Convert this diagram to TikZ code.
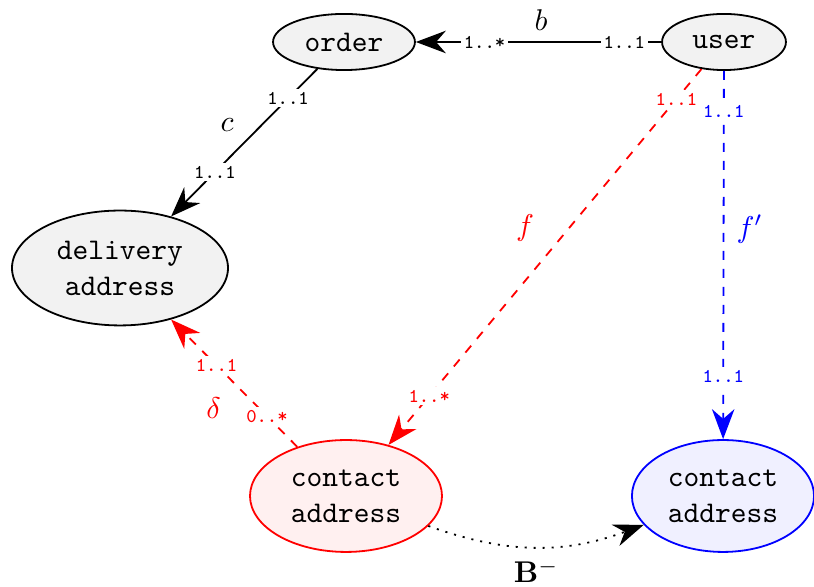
\documentclass[tikz,border=0pt]{standalone}
\usetikzlibrary{arrows.meta,shapes.geometric}
\begin{document}
\begin{tikzpicture}[x=0.33333pt,y=-0.33333pt,
  ent/.style={ellipse, draw, semithick, fill=black!5, font=\ttfamily, align=center, inner sep=0pt},
  card/.style={font=\fontsize{6.5}{7}\selectfont\ttfamily, fill=white, inner sep=1pt},
  arr/.style={-{Stealth[length=10pt,width=7.5pt]}, semithick},
  dotline/.style={dash pattern=on 0.7pt off 2.3pt}]
\useasboundingbox (0,0) rectangle (814,587);
\node[ent, minimum width=47.3pt, minimum height=18.7pt] (order) at (344,42) {order};
\node[ent, minimum width=41.3pt, minimum height=18.7pt] (user) at (724,42) {user};
\node[ent, minimum width=72pt, minimum height=38.3pt] (deliv) at (120,268) {delivery\\address};
\node[ent, draw=red, fill=red!6, minimum width=64pt, minimum height=37.3pt] (cred) at (346,496) {contact\\address};
\node[ent, draw=blue, fill=blue!6, minimum width=60.7pt, minimum height=37.3pt] (cblue) at (723,496) {contact\\address};

\draw[arr] (user) -- node[card,pos=0.15]{1..1} node[card,pos=0.72]{1..*}
  node[pos=0.49, yshift=7.3pt]{$b$} (order);
\draw[arr] (order) -- node[card,pos=0.2]{1..1} node[card,pos=0.7]{1..1}
  node[pos=0.5,xshift=-5.7pt,yshift=5.8pt]{$c$} (deliv);
\draw[arr, red, dashed] (user) -- node[card,pos=0.08]{1..1} node[card,pos=0.87]{1..*}
  node[pos=0.48,xshift=-8.7pt,yshift=7.3pt]{$f$} (cred);
\draw[arr, blue, dashed] (user) -- node[card,pos=0.11]{1..1} node[card,pos=0.83]{1..1}
  node[pos=0.43,xshift=8.7pt]{$f'$} (cblue);
\draw[arr, red, dashed] (cred) -- node[card,pos=0.24]{0..*} node[card,pos=0.64]{1..1}
  node[pos=0.48,xshift=-7.7pt,yshift=-7.5pt]{$\delta$} (deliv);
\draw[arr, dotline] (cred) to[bend right=20] node[pos=0.5, yshift=-8pt]{$\mathbf{B}^-$} (cblue);
\end{tikzpicture}
\end{document}
